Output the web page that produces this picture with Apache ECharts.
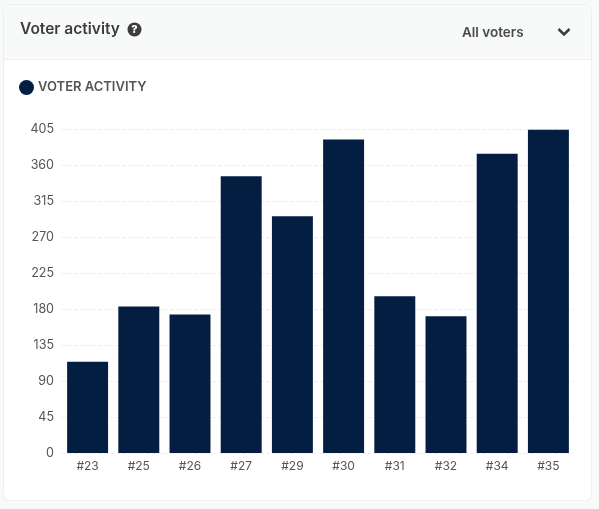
<!DOCTYPE html>
<html lang="en" style="height: 100%">
<head>
  <meta charset="UTF-8">
  <title>Voter activity</title>
</head>
<body style="height: 100%; margin: 0; background-color: #f8f9f9">
<div id="container" style="height: 100%"></div>
<script type="text/javascript" src="https://cdn.jsdelivr.net/npm/echarts@6/dist/echarts.min.js"></script>
<script type="text/javascript">
  var categories = ['#23', '#25', '#26', '#27', '#29', '#30', '#31', '#32', '#34', '#35'];
  var voterActivity = [114, 183, 173, 346, 296, 392, 196, 171, 374, 404];
  var seriesName = 'VOTER ACTIVITY';
  var axisMax = 405;
  var axisInterval = 45;

  var font = 'Inter, "Noto Sans", sans-serif';
  var navy = '#041e42';

  var myChart = echarts.init(document.getElementById('container'), null, { renderer: 'canvas' });

  var option = {
    backgroundColor: '#f8f9f9',
    animation: false,
    textStyle: { fontFamily: font },
    legend: {
      left: 14,
      top: 75,
      icon: 'circle',
      itemWidth: 15,
      itemHeight: 15,
      itemGap: 5,
      selectedMode: false,
      data: [seriesName],
      textStyle: { fontFamily: font, fontSize: 13, fontWeight: 600, color: '#555555', padding: [0, 0, 0, -1] }
    },
    grid: { left: 62, right: 25, top: 129, bottom: 56 },
    xAxis: {
      type: 'category',
      data: categories,
      axisLine: { show: false },
      axisTick: { show: false },
      axisLabel: { color: '#555555', fontSize: 12, margin: 7, fontFamily: font }
    },
    yAxis: {
      type: 'value',
      min: 0,
      max: axisMax,
      interval: axisInterval,
      axisLine: { show: false },
      axisTick: { show: false },
      axisLabel: { color: '#555555', fontSize: 12.5, margin: 8, fontFamily: font },
      splitLine: { lineStyle: { color: '#eeeeee', type: 'dashed', width: 1 } }
    },
    series: [
      {
        name: seriesName,
        type: 'bar',
        data: voterActivity,
        barWidth: '80%',
        itemStyle: { color: navy }
      }
    ],
    graphic: [
      // card and header band
      {
        type: 'rect',
        z: -10,
        shape: { x: 3.5, y: 4.5, width: 588, height: 496, r: 6 },
        style: { fill: '#ffffff', stroke: '#eef0f0', lineWidth: 1 }
      },
      {
        type: 'rect',
        z: -9,
        shape: { x: 4, y: 5, width: 587, height: 54, r: [6, 6, 0, 0] },
        style: { fill: '#f8f9f9' }
      },
      {
        type: 'line',
        z: -9,
        shape: { x1: 4, y1: 59.5, x2: 591, y2: 59.5 },
        style: { stroke: '#eef0f0', lineWidth: 1 }
      },
      {
        type: 'text',
        x: 20,
        y: 21,
        style: { text: 'Voter activity', fontFamily: font, fontSize: 15.5, fontWeight: 600, fill: '#3d3d3d' }
      },
      // help icon
      {
        type: 'circle',
        shape: { cx: 134.5, cy: 29.5, r: 7 },
        style: { fill: '#3d3d3d' }
      },
      {
        type: 'text',
        x: 134.5,
        y: 29.5,
        style: { text: '?', align: 'center', verticalAlign: 'middle', fontFamily: font, fontSize: 11, fontWeight: 800, fill: '#ffffff' }
      },
      {
        type: 'text',
        x: 462,
        y: 26,
        style: { text: 'All voters', fontFamily: font, fontSize: 13.5, fontWeight: 600, fill: '#4a4a4a' }
      },
      // dropdown chevron
      {
        type: 'polyline',
        shape: { points: [[558.5, 29], [564, 34.5], [569.5, 29]] },
        style: { stroke: '#3d3d3d', lineWidth: 2.5, fill: null }
      }
    ]
  };

  myChart.setOption(option);
  window.addEventListener('resize', myChart.resize);
</script>
</body>
</html>
